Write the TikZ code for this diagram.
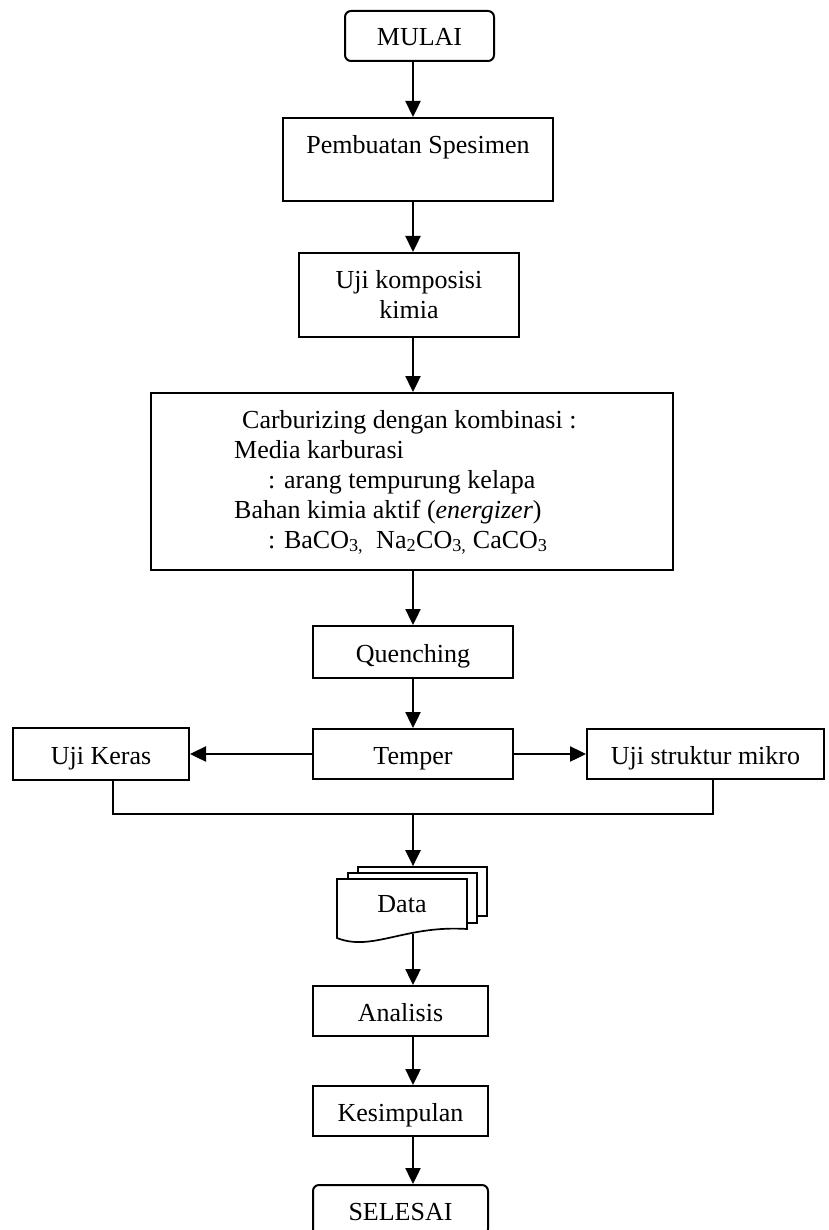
\documentclass[tikz,border=0pt]{standalone}
\usepackage{fontspec}
\setmainfont{Liberation Serif}
\usetikzlibrary{arrows.meta}

\begin{document}
\begin{tikzpicture}[x=1pt,y=-1pt,
  every node/.style={font=\fontsize{26}{30}\selectfont},
  box/.style={draw,line width=2pt,inner sep=0pt,align=center},
  one/.style={box,text height=25pt,text depth=5pt},
  terminal/.style={one,rounded corners=6pt},
  sheet/.style={draw,line width=1.7pt,fill=white,inner sep=0pt,minimum width=129pt,minimum height=49pt},
  arr/.style={line width=2.4pt,-{Triangle[length=16pt,width=15pt]}},
  bus/.style={line width=2pt}]

\clip (0,0) rectangle (828,1230);
\fill[white] (0,0) rectangle (828,1230);

\coordinate (axis) at (413,0);

\node[terminal,minimum width=149pt,minimum height=50pt] (mulai) at (419.5,36) {MULAI};
\node[box,minimum width=270pt,text height=36pt,text depth=47pt] (spesimen) at (418,159.5) {Pembuatan Spesimen};
\node[box,minimum width=220pt,minimum height=84pt] (komposisi) at (409,295) {Uji komposisi\\kimia};

\node[box,minimum width=522pt,minimum height=177pt] (carb) at (412,481.5) {};
\node[anchor=north west,inner sep=0pt,align=left] (carbtxt) at (234,410) {\hspace*{8pt}Carburizing dengan kombinasi :\\
Media karburasi\\
\hspace*{34pt}: arang tempurung kelapa\\
Bahan kimia aktif (\textit{energizer})\\
\hspace*{34pt}: BaCO\textsubscript{3,}\ \ Na\textsubscript{2}CO\textsubscript{3,} CaCO\textsubscript{3}};

\node[one,minimum width=200pt,minimum height=52pt] (quench) at (413,652) {Quenching};
\node[one,minimum width=200pt,minimum height=50pt] (temper) at (413,754) {Temper};
\node[one,minimum width=176pt,minimum height=52pt] (keras) at (101,754) {Uji Keras};
\node[one,minimum width=237pt,minimum height=50pt] (mikro) at (705.5,754) {Uji struktur mikro};

% data (stack of sheets)
\node[sheet] (sheet3) at (422.5,891.5) {};
\node[sheet,minimum height=50pt] (sheet2) at (412.5,898) {};
\filldraw[line width=1.7pt,fill=white] (337,879) -- (467,879) -- (467,929) .. controls (405,925) and (372,952) .. (337,938) -- cycle;
\node (data) at (402,904) {Data};
\coordinate (databot) at (413,934);

\node[one,minimum width=175pt,minimum height=50pt] (analisis) at (400.5,1011) {Analisis};
\node[one,minimum width=175pt,minimum height=50pt] (kesimpulan) at (400.5,1111) {Kesimpulan};
\node[terminal,minimum width=175pt,minimum height=50pt] (selesai) at (400.5,1210) {SELESAI};

% arrows
\draw[arr] (mulai.south -| axis) -- (spesimen.north -| axis);
\draw[arr] (spesimen.south -| axis) -- (komposisi.north -| axis);
\draw[arr] (komposisi.south -| axis) -- (carb.north -| axis);
\draw[arr] (carb.south -| axis) -- (quench.north -| axis);
\draw[arr] (quench.south -| axis) -- (temper.north -| axis);
\draw[arr] (temper.west) -- (keras.east);
\draw[arr] (temper.east) -- (mikro.west);

\coordinate (busL) at (113,814);
\coordinate (busR) at (713,814);
\draw[bus] (keras.south -| busL) -- (busL) -- (busR) -- (mikro.south -| busR);
\draw[arr] (busL -| axis) -- (sheet3.north -| axis);

\draw[arr] (databot) -- (analisis.north -| axis);
\draw[arr] (analisis.south -| axis) -- (kesimpulan.north -| axis);
\draw[arr] (kesimpulan.south -| axis) -- (selesai.north -| axis);

\end{tikzpicture}
\end{document}
